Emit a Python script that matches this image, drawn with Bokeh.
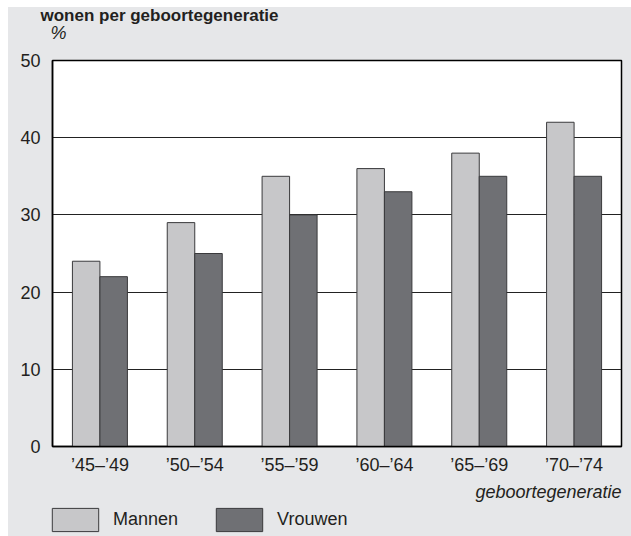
from bokeh.plotting import figure
from bokeh.models import (FactorRange, Range1d, ColumnDataSource, Legend, LegendItem,
                          Title, Label, FixedTicker)
from bokeh.transform import dodge
from bokeh.layouts import column
from bokeh.embed import file_html
from bokeh.resources import INLINE

# ---- data ----
categories = ["’45–’49", "’50–’54", "’55–’59", "’60–’64", "’65–’69", "’70–’74"]
mannen = [24, 29, 35, 36, 38, 42]
vrouwen = [22, 25, 30, 33, 35, 35]
y_ticks = [0, 10, 20, 30, 40, 50]
series_names = ["Mannen", "Vrouwen"]
title_text = "wonen per geboortegeneratie"
y_unit = "%"
x_title = "geboortegeneratie"

# ---- styles ----
FONT = "Liberation Sans"
PANEL = "#e6e7e9"
LIGHT = "#c7c7c9"
DARK = "#6f7074"
EDGE = "#3a3a3c"
TEXT = "#231f20"
FS = "18px"
W = 623

src = ColumnDataSource(dict(cat=categories, m=mannen, v=vrouwen))


def strip(height, x_range, y_range):
    f = figure(width=W, height=height, output_backend="svg", toolbar_location=None,
               title=None, x_axis_location=None, y_axis_location=None,
               x_range=x_range, y_range=y_range, frame_align=False,
               min_border=0, min_border_left=0, min_border_right=0,
               min_border_top=0, min_border_bottom=0)
    f.border_fill_color = PANEL
    f.background_fill_color = PANEL
    f.outline_line_color = None
    f.xgrid.visible = False
    f.ygrid.visible = False
    return f


# ---- top strip: title and unit (pixel-sized ranges) ----
TOP_H = 39
top = strip(TOP_H, Range1d(0, W), Range1d(0, TOP_H))
top.add_layout(Label(x=32, y=31, text=title_text, text_font=FONT, text_font_size="17px",
                     text_font_style="bold", text_color=TEXT, text_baseline="alphabetic"))
top.add_layout(Label(x=42, y=14, text=y_unit, text_font=FONT, text_font_size=FS,
                     text_font_style="italic", text_color=TEXT, text_baseline="alphabetic"))

# ---- main chart ----
p = figure(x_range=FactorRange(*categories, range_padding=0),
           y_range=Range1d(y_ticks[0], y_ticks[-1]),
           width=W, height=458, output_backend="svg", toolbar_location=None,
           title=None, frame_align=False,
           min_border_left=44, min_border_right=10, min_border_top=14,
           min_border_bottom=58)
p.border_fill_color = PANEL
p.background_fill_color = "white"
p.outline_line_color = "black"
p.outline_line_width = 1.5

r_m = p.vbar(x=dodge("cat", -0.145, range=p.x_range), top="m", width=0.29, source=src,
             fill_color=LIGHT, line_color=EDGE, line_width=1)
r_v = p.vbar(x=dodge("cat", 0.145, range=p.x_range), top="v", width=0.29, source=src,
             fill_color=DARK, line_color=EDGE, line_width=1)

ticker = FixedTicker(ticks=y_ticks)
p.yaxis.ticker = ticker
p.ygrid.ticker = ticker
p.xgrid.grid_line_color = None
p.ygrid.grid_line_color = "#222222"
p.ygrid.grid_line_width = 1

for ax in (p.xaxis[0], p.yaxis[0]):
    ax.axis_line_color = "black"
    ax.axis_line_width = 1.5
    ax.major_tick_line_color = None
    ax.minor_tick_line_color = None
    ax.major_label_text_font = FONT
    ax.major_label_text_font_size = FS
    ax.major_label_text_color = TEXT
p.yaxis.major_label_standoff = 6
p.xaxis.major_label_standoff = 2

p.add_layout(Title(text=x_title, align="right", standoff=4,
                   text_font=FONT, text_font_size=FS, text_font_style="italic",
                   text_color=TEXT), "below")

# ---- legend strip (swatch renderers share the data but are hidden) ----
leg = strip(32, FactorRange(*categories), Range1d(0, 50))
sw_m = leg.vbar(x=dodge("cat", -0.145, range=leg.x_range), top="m", width=0.29, source=src,
                fill_color=LIGHT, line_color=EDGE, line_width=1, visible=False)
sw_v = leg.vbar(x=dodge("cat", 0.145, range=leg.x_range), top="v", width=0.29, source=src,
                fill_color=DARK, line_color=EDGE, line_width=1, visible=False)
legend = Legend(items=[LegendItem(label=series_names[0], renderers=[sw_m]),
                       LegendItem(label=series_names[1], renderers=[sw_v])],
                location=(38, 2), orientation="horizontal",
                glyph_width=58, glyph_height=29,
                label_standoff=9, spacing=32, click_policy="none",
                padding=0, margin=0, border_line_color=None, background_fill_alpha=0,
                label_text_font=FONT, label_text_font_size=FS, label_text_color=TEXT)
leg.add_layout(legend, "center")

layout = column(top, p, leg, spacing=0)
layout.margin = (7, 0, 0, 8)
layout.styles = {"background-color": PANEL}

open("out.html", "w").write(file_html(layout, INLINE))
